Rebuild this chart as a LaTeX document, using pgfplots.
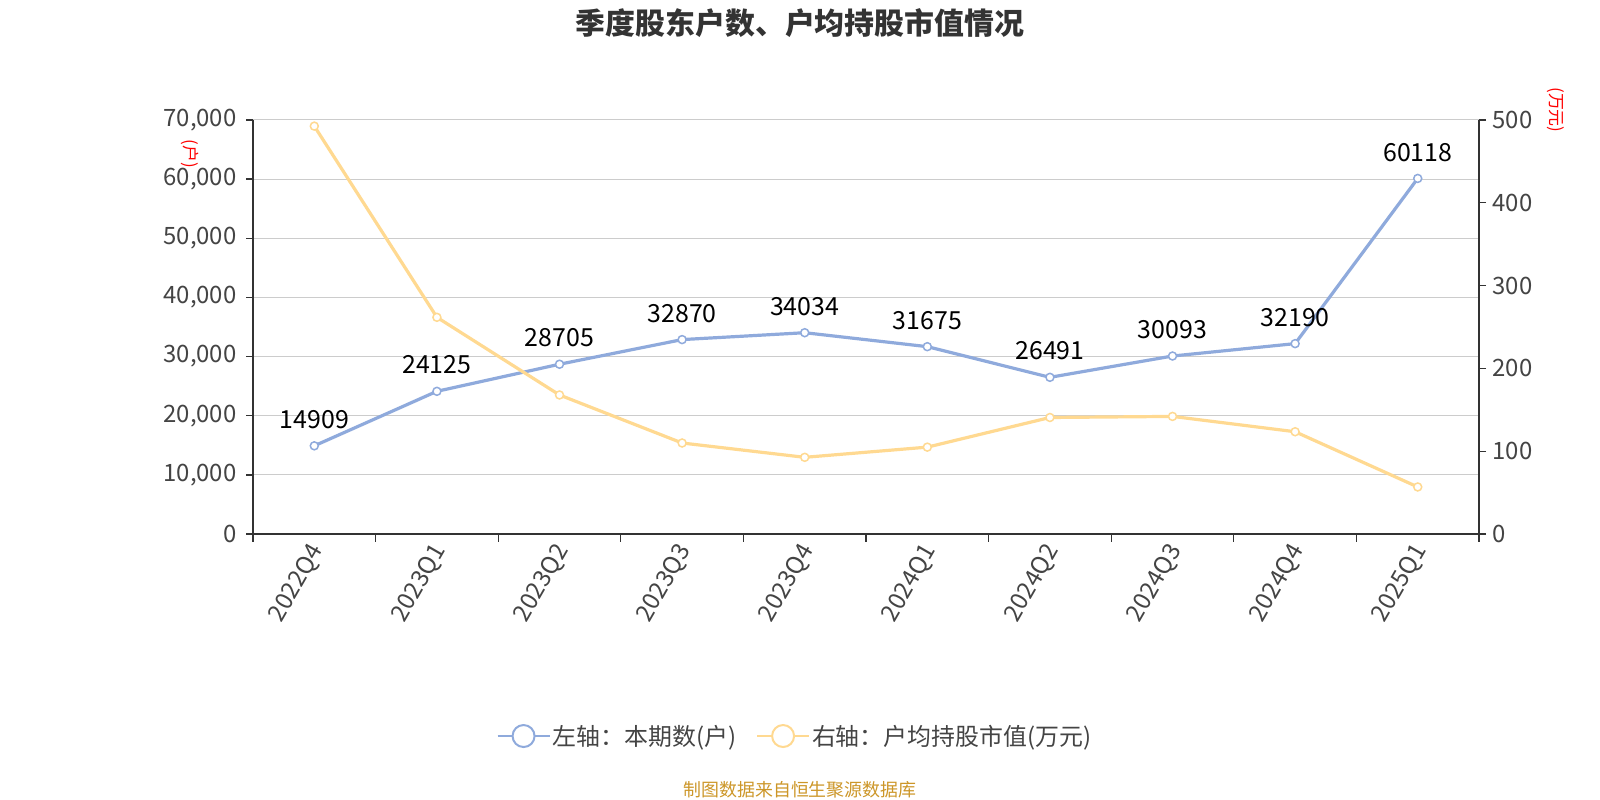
\documentclass[border=0pt]{standalone}
\usepackage{fontspec}
\setmainfont{Noto Sans CJK SC}
\usepackage{pgfplots}
\usepackage{pgfplotstable}
\pgfplotsset{compat=1.18}

\definecolor{lineblue}{RGB}{143,170,220}
\definecolor{lineyel}{RGB}{255,217,145}
\definecolor{axgray}{RGB}{51,51,51}
\definecolor{gridgray}{RGB}{204,204,204}
\definecolor{txtgray}{RGB}{68,68,68}
\definecolor{srcgold}{RGB}{204,150,40}

% quarter index, holders (left axis), avg holding value in 10k yuan (right axis)
\pgfplotstableread{
x hh mv
0 14909 492.6
1 24125 261.7
2 28705 167.9
3 32870 109.9
4 34034 92.6
5 31675 104.9
6 26491 140.7
7 30093 142.0
8 32190 123.5
9 60118 56.8
}\datatable

\pgfplotsset{
  common/.style={
    at={(253bp,266bp)}, anchor=south west, scale only axis,
    width=1226bp, height=414bp,
    xmin=-0.5, xmax=9.5,
    axis line style={axgray, line width=1.3bp},
    tick align=outside, major tick length=7bp,
    tick style={axgray, line width=1.3bp},
    /pgf/number format/assume math mode=true,
    scaled y ticks=false, clip=false,
  },
}

\begin{document}
\begin{tikzpicture}
\path[use as bounding box] (0bp,0bp) rectangle (1600bp,800bp);

\node[font=\fontsize{30}{34}\selectfont\bfseries, text=axgray] at (800bp,777bp) {季度股东户数、户均持股市值情况};

\begin{axis}[common,
  ymin=0, ymax=70000,
  axis x line*=bottom, axis y line*=left,
  xtick={0,...,9},
  xticklabels={2022Q4,2023Q1,2023Q2,2023Q3,2023Q4,2024Q1,2024Q2,2024Q3,2024Q4,2025Q1},
  major x tick style={draw=none},
  minor xtick={-0.5,0.5,...,9.5},
  minor tick length=8bp,
  minor x tick style={axgray, line width=1.3bp},
  xticklabel style={font=\fontsize{24}{28}\selectfont, text=txtgray, rotate=60, anchor=east, yshift=-6bp},
  yticklabel style={font=\fontsize{24}{28}\selectfont, text=txtgray, xshift=-6bp},
  ytick={0,10000,...,70000},
  ymajorgrids, grid style={gridgray, line width=1bp},
  /pgf/number format/1000 sep={,},
  legend columns=2,
  legend style={at={(rel axis cs:0.442,-0.488)}, anchor=center, draw=none, fill=none,
    font=\fontsize{24}{28}\selectfont, text=txtgray,
    /tikz/every even column/.append style={column sep=18bp}},
  legend image code/.code={\draw[#1, mark repeat=2, mark phase=2] plot coordinates {(0bp,0bp) (26bp,0bp) (52bp,0bp)};},
]
\addlegendimage{lineblue, line width=2bp, mark=*, mark size=11bp, mark options={fill=white, draw=lineblue, line width=2bp}}
\addlegendentry{左轴：本期数(户)}
\addlegendimage{lineyel, line width=2bp, mark=*, mark size=11bp, mark options={fill=white, draw=lineyel, line width=2bp}}
\addlegendentry{右轴：户均持股市值(万元)}

\addplot[lineblue, line width=3.2bp, mark=*, mark size=4bp,
  mark options={fill=white, draw=lineblue, line width=1.5bp},
  nodes near coords, point meta=explicit symbolic,
  every node near coord/.append style={font=\fontsize{25}{29}\selectfont, text=black, yshift=13bp}]
  table[x=x, y=hh, meta=hh] {\datatable};
\end{axis}

\begin{axis}[common,
  ymin=0, ymax=500,
  axis y line*=right, axis x line=none,
  ytick={0,100,...,500},
  yticklabel style={font=\fontsize{24}{28}\selectfont, text=txtgray, xshift=3bp},
]
\addplot[lineyel, line width=3.2bp, mark=*, mark size=4bp,
  mark options={fill=white, draw=lineyel, line width=1.5bp}]
  table[x=x, y=mv] {\datatable};
\end{axis}

\node[rotate=-90, text=red, font=\fontsize{17}{19}\selectfont] at (190bp,646bp) {(户)};
\node[rotate=-90, text=red, font=\fontsize{17}{19}\selectfont] at (1556bp,690bp) {(万元)};
\node[text=srcgold, font=\fontsize{18}{20}\selectfont] at (800bp,10bp) {制图数据来自恒生聚源数据库};
\end{tikzpicture}
\end{document}
